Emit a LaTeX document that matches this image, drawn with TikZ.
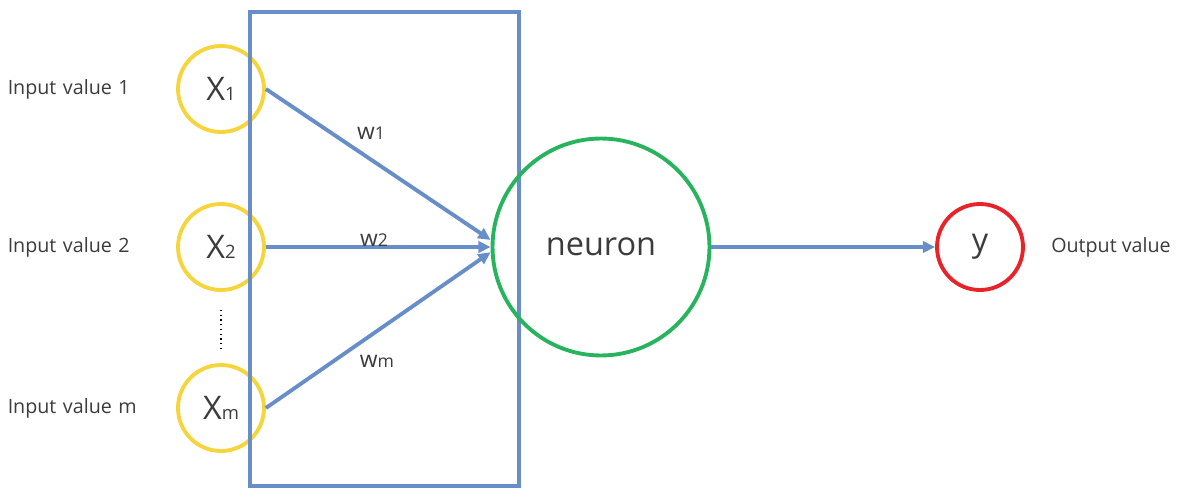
\documentclass[tikz,border=0pt]{standalone}
\usepackage{fontspec}
\setmainfont{Open Sans}
\usetikzlibrary{arrows.meta,positioning}

\definecolor{edgeblue}{RGB}{104,142,202}
\definecolor{inyellow}{RGB}{245,212,60}
\definecolor{neurgreen}{RGB}{40,180,95}
\definecolor{outred}{RGB}{232,36,42}
\definecolor{txtgray}{RGB}{60,60,60}

\newcommand{\lowsub}[1]{{\fontsize{10.5}{10.5}\selectfont #1}}
\newcommand{\wsub}[1]{{\fontsize{10}{10}\selectfont #1}}

\begin{document}
\begin{tikzpicture}[
  x=0.02cm, y=-0.02cm,
  unit/.style={
    circle, line width=2.2pt, minimum size=1.72cm, inner sep=0pt,
    font=\fontsize{18.5}{20}\selectfont, text=txtgray
  },
  inunit/.style={unit, draw=inyellow},
  lbl/.style={inner sep=0pt, font=\fontsize{11.2}{13}\selectfont, text=txtgray},
  inlbl/.style={lbl, text width=2.8cm, align=left},
  wlbl/.style={inner sep=1pt, font=\fontsize{13}{15}\selectfont, text=txtgray},
  arr/.style={-{Triangle[length=7pt,width=6.5pt]}, line width=2.2pt, draw=edgeblue}
]
  \useasboundingbox (0,0) rectangle (1191,504);

  % inputs
  \node[inunit] (x1) at (221,89)  {X\lowsub{1}};
  \node[inunit] (x2) at (221,247) {X\lowsub{2}};
  \node[inunit] (xm) at (221,408) {X\lowsub{m}};

  \node[inlbl, left=0.56cm of x1] (in1) {Input value 1};
  \node[inlbl, left=0.56cm of x2] (in2) {Input value 2};
  \node[inlbl, left=0.56cm of xm] (inm) {Input value m};

  \coordinate (dtop) at (221,310);
  \coordinate (dbot) at (221,350);
  \draw[dotted, line width=0.7pt] (dtop) -- (dbot);

  % weight frame
  \draw[edgeblue, line width=2.2pt] (250,12) rectangle (519,486);

  % neuron and output
  \node[unit, draw=neurgreen, minimum size=4.34cm] (neuron) at (601,247) {neuron};
  \node[unit, draw=outred] (yout) at (980,247) {y};
  \node[lbl, right=0.52cm of yout] (outv) {Output value};

  \draw[arr] (x1.east) -- ([yshift=4pt]neuron.west);
  \draw[arr] (x2.east) -- (neuron.west);
  \draw[arr] (xm.east) -- ([yshift=-3pt]neuron.west);
  \draw[arr] (neuron.east) -- (yout.west);

  \node[wlbl] (w1) at (371,133) {w\wsub{1}};
  \node[wlbl] (w2) at (374,240) {w\wsub{2}};
  \node[wlbl] (wm) at (377,361) {w\wsub{m}};
\end{tikzpicture}
\end{document}
